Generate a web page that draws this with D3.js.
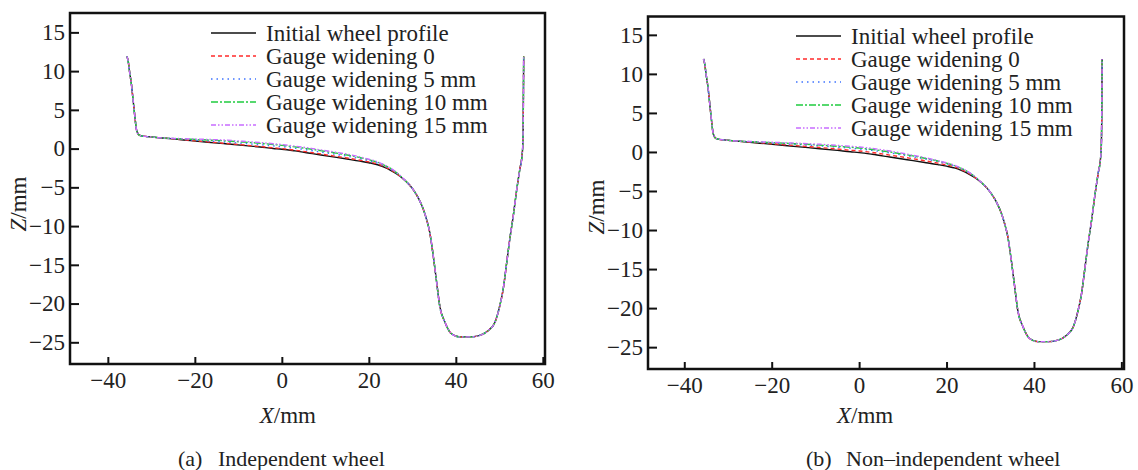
<!doctype html>
<html>
<head>
<meta charset="utf-8">
<title>Wheel profile wear</title>
<script src="https://d3js.org/d3.v7.min.js"></script>
<style>
  body { margin: 0; background: #fff; }
  svg, svg text { font-family: "Liberation Serif", "Times New Roman", serif; }
  .tick line { stroke: #111; stroke-width: 2px; }
  .tick text { font-size: 23px; fill: #222; font-family: "Liberation Serif", serif; }
</style>
</head>
<body>
<div id="chart"></div>
<script>
// left flange (shared by all profiles)
var flangeX = [-35.6, -35.3, -35.0, -34.6, -34.2, -33.8, -33.4, -32.9, -32.3, -31.0, -28.5];
var flangeZ = [11.9, 11.2, 9.9, 8.4, 6.3, 4.2, 2.4, 1.8, 1.65, 1.55, 1.42];

// tread region, where the worn profiles differ
var treadX = [-25, -21, -17, -13, -9, -5, -2, 0, 3, 7, 11, 15, 18, 20, 22, 23.5, 25, 26.5, 28];
var initialZ = [1.25, 1.03, 0.82, 0.62, 0.42, 0.2, 0.02, -0.08, -0.3, -0.65, -1.0, -1.35, -1.62, -1.82, -2.08, -2.4, -2.8, -3.3, -3.95];

var indepZ = {
  gw0:  [1.26, 1.06, 0.87, 0.68, 0.48, 0.27, 0.1, 0.0, -0.2, -0.53, -0.87, -1.22, -1.5, -1.72, -1.98, -2.32, -2.73, -3.27, -3.95],
  gw5:  [1.28, 1.12, 0.98, 0.84, 0.68, 0.5, 0.35, 0.25, 0.05, -0.27, -0.62, -0.98, -1.3, -1.56, -1.86, -2.22, -2.64, -3.22, -3.93],
  gw10: [1.3, 1.2, 1.1, 1.0, 0.85, 0.68, 0.53, 0.42, 0.22, -0.1, -0.45, -0.82, -1.16, -1.43, -1.76, -2.13, -2.56, -3.16, -3.92],
  gw15: [1.32, 1.25, 1.18, 1.1, 0.95, 0.78, 0.63, 0.52, 0.32, 0.0, -0.35, -0.72, -1.08, -1.38, -1.7, -2.08, -2.53, -3.13, -3.92]
};
var nonIndepZ = {
  gw0:  [1.27, 1.1, 0.92, 0.75, 0.57, 0.38, 0.22, 0.13, -0.07, -0.4, -0.75, -1.12, -1.43, -1.66, -1.94, -2.28, -2.7, -3.26, -3.95],
  gw5:  [1.3, 1.18, 1.05, 0.92, 0.78, 0.62, 0.48, 0.38, 0.2, -0.12, -0.48, -0.88, -1.23, -1.5, -1.82, -2.18, -2.61, -3.2, -3.93],
  gw10: [1.32, 1.22, 1.12, 1.01, 0.88, 0.73, 0.6, 0.5, 0.32, 0.0, -0.38, -0.8, -1.16, -1.44, -1.78, -2.14, -2.58, -3.18, -3.92],
  gw15: [1.34, 1.26, 1.18, 1.09, 0.98, 0.85, 0.73, 0.64, 0.45, 0.12, -0.28, -0.72, -1.1, -1.4, -1.74, -2.11, -2.56, -3.16, -3.92]
};

// throat, flange root and back of the profile (shared)
var throatX = [29.2, 30.2, 31.4, 32.5, 33.3, 34.0, 34.8, 35.6, 36.3, 37.5, 39.0, 40.9, 43.2, 45.5, 47.4, 49.0, 50.1, 50.9, 51.7, 52.4, 53.2, 54.0, 54.7, 55.2, 55.4, 55.5, 55.6];
var throatZ = [-4.6, -5.3, -6.4, -7.8, -9.2, -10.8, -13.8, -17.3, -20.3, -22.4, -23.9, -24.3, -24.3, -24.1, -23.5, -22.4, -20.3, -18.1, -14.7, -11.7, -8.7, -5.3, -2.7, -1.0, 0.5, 4.0, 11.9];

var seriesNames = ["Initial wheel profile", "Gauge widening 0", "Gauge widening 5 mm", "Gauge widening 10 mm", "Gauge widening 15 mm"];
var seriesKeys = ["init", "gw0", "gw5", "gw10", "gw15"];
var colors = ["#111111", "#ff2a2a", "#3f74ff", "#1fcc3f", "#c86cff"];
var dashes = [null, "4,3", "1.5,4", "7,2,2,2", "5,2,1.5,2,1.5,2"];

var xTicks = [-40, -20, 0, 20, 40, 60];
var zTicks = [-25, -20, -15, -10, -5, 0, 5, 10, 15];

var svg = d3.select("#chart").append("svg")
  .attr("width", 1138).attr("height", 470);

function buildPoints(tz) {
  var pts = [];
  flangeX.forEach(function(x, i) { pts.push([x, flangeZ[i]]); });
  treadX.forEach(function(x, i) { pts.push([x, tz[i]]); });
  throatX.forEach(function(x, i) { pts.push([x, throatZ[i]]); });
  return pts;
}

function drawPanel(p) {
  var x = d3.scaleLinear().domain(p.xDom).range([p.left, p.right]);
  var y = d3.scaleLinear().domain(p.yDom).range([p.bottom, p.top]);
  var g = svg.append("g");

  // axes, ticks pointing inward
  g.append("g")
    .attr("transform", "translate(0," + p.bottom + ")")
    .call(d3.axisBottom(x).tickValues(xTicks).tickSizeInner(-7).tickSizeOuter(0).tickPadding(8))
    .call(function(a) { a.select(".domain").remove(); a.attr("font-family", null).attr("font-size", null); });
  g.append("g")
    .attr("transform", "translate(" + p.left + ",0)")
    .call(d3.axisLeft(y).tickValues(zTicks).tickSizeInner(-9).tickSizeOuter(0).tickPadding(5))
    .call(function(a) { a.select(".domain").remove(); a.attr("font-family", null).attr("font-size", null); });

  // profiles
  var line = d3.line()
    .x(function(d) { return x(d[0]); })
    .y(function(d) { return y(d[1]); })
    .curve(d3.curveMonotoneX);
  seriesKeys.forEach(function(k, i) {
    var tz = k == "init" ? initialZ : p.z[k];
    g.append("path")
      .datum(buildPoints(tz))
      .attr("d", line)
      .attr("fill", "none")
      .attr("stroke", colors[i])
      .attr("stroke-width", 1.4)
      .attr("stroke-dasharray", dashes[i]);
  });

  // frame
  g.append("rect")
    .attr("x", p.left).attr("y", p.top)
    .attr("width", p.right - p.left).attr("height", p.bottom - p.top)
    .attr("fill", "none").attr("stroke", "#111").attr("stroke-width", 2.5);

  // legend
  seriesNames.forEach(function(name, i) {
    var ly = p.legY + i * 23;
    g.append("line")
      .attr("x1", p.legX).attr("x2", p.legX + 45)
      .attr("y1", ly).attr("y2", ly)
      .attr("stroke", colors[i]).attr("stroke-width", 1.4)
      .attr("stroke-dasharray", dashes[i]);
    g.append("text")
      .attr("x", p.legX + 55).attr("y", ly).attr("dy", "0.33em")
      .style("font-size", "23px").style("fill", "#222")
      .text(name);
  });

  // axis titles
  var xl = g.append("text")
    .attr("x", x(0) + 6).attr("y", 415).attr("dy", "0.33em")
    .attr("text-anchor", "middle").style("font-size", "23px").style("fill", "#222");
  xl.append("tspan").style("font-style", "italic").text("X");
  xl.append("tspan").text("/mm");

  var yl = g.append("text")
    .attr("transform", "translate(" + p.yLabX + "," + p.yLabY + ") rotate(-90)")
    .attr("dy", "0.33em")
    .attr("text-anchor", "middle").style("font-size", "23px").style("fill", "#222");
  yl.append("tspan").style("font-style", "italic").text("Z");
  yl.append("tspan").text("/mm");

  // caption
  var cap = g.append("text").attr("y", 459).attr("dy", "0.33em")
    .style("font-size", "22px").style("fill", "#222");
  cap.append("tspan").attr("x", p.capX).text(p.capTag);
  cap.append("tspan").attr("x", p.capX + 40).text(p.caption);
}

drawPanel({
  left: 70, right: 545, top: 13, bottom: 364,
  xDom: [-48.7, 60.5], yDom: [-27.8, 17.5],
  z: indepZ, legX: 211, legY: 33,
  yLabX: 18, yLabY: 204,
  capX: 178, capTag: "(a)", caption: "Independent wheel"
});
drawPanel({
  left: 648, right: 1124, top: 16.5, bottom: 369,
  xDom: [-48.3, 60.6], yDom: [-27.8, 17.35],
  z: nonIndepZ, legX: 796, legY: 36,
  yLabX: 596, yLabY: 207,
  capX: 806, capTag: "(b)", caption: "Non\u2013independent wheel"
});
</script>
</body>
</html>
